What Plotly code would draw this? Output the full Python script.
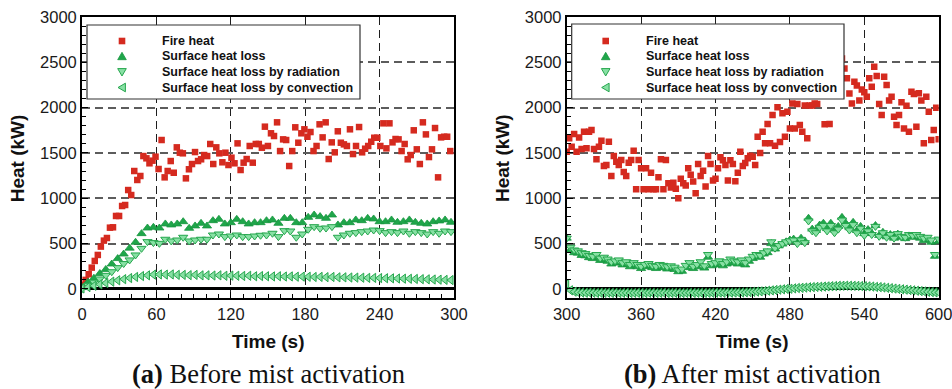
import numpy as np
import plotly.graph_objects as go

W, H = 952, 389

# ---------------- (a) before mist activation, 0-300 s ----------------
# Fire heat (kW), sampled every ~2.45 s starting at 0.5 s
fire_a = [
    44, 100, 162, 235, 309, 375, 467, 533, 562, 676,
    680, 805, 805, 915, 926, 1091, 1036, 1301, 1202, 1246,
    1466, 1441, 1386, 1415, 1459, 1323, 1643, 1231, 1301, 1411,
    1282, 1562, 1503, 1496, 1220, 1320, 1378, 1510, 1411, 1430,
    1477, 1466, 1599, 1378, 1562, 1496, 1397, 1503, 1367, 1448,
    1386, 1606, 1312, 1393, 1433, 1577, 1393, 1599, 1599, 1558,
    1790, 1577, 1717, 1687, 1838, 1521, 1650, 1643, 1356, 1521,
    1783, 1613, 1717, 1761, 1679, 1731, 1521, 1577, 1816, 1672,
    1838, 1433, 1617, 1507, 1739, 1613, 1595, 1577, 1761, 1488,
    1577, 1786, 1507, 1547, 1577, 1624, 1668, 1668, 1577, 1827,
    1551, 1827, 1617, 1654, 1650, 1521, 1599, 1430, 1477, 1750,
    1540, 1378, 1838, 1705, 1455, 1540, 1775, 1231, 1672, 1679,
    1679, 1521,
]
fire_a_t0, fire_a_dt = 0.5, 2.45

# Surface heat loss terms (kW), sampled every 4.8 s
surf_a = [
    15, 75, 118, 170, 215, 275, 335, 385, 450, 515,
    610, 672, 680, 672, 717, 706, 717, 742, 669, 695,
    724, 695, 753, 768, 717, 731, 768, 742, 717, 731,
    731, 753, 761, 724, 779, 779, 731, 731, 790, 816,
    798, 779, 816, 706, 731, 731, 761, 753, 779, 772,
    742, 742, 761, 735, 742, 761, 735, 724, 717, 742,
    750, 761, 735,
]
rad_a = [
    5, 40, 75, 110, 150, 190, 235, 280, 320, 375,
    448, 522, 511, 503, 548, 529, 540, 570, 529, 540,
    548, 548, 595, 606, 577, 584, 595, 577, 577, 584,
    592, 595, 614, 577, 643, 639, 570, 606, 658, 687,
    669, 672, 687, 570, 595, 614, 621, 632, 639, 650,
    643, 621, 632, 621, 639, 614, 632, 621, 606, 632,
    614, 639, 632,
]
conv_a = [
    5, 20, 35, 50, 65, 80, 95, 108, 120, 132,
    142, 150, 158, 160, 158, 160, 155, 155, 152, 155,
    150, 150, 148, 150, 145, 147, 145, 143, 145, 140,
    142, 140, 138, 140, 137, 138, 135, 136, 134, 132,
    133, 130, 132, 128, 128, 126, 125, 124, 122, 122,
    120, 118, 117, 115, 113, 112, 110, 108, 106, 104,
    102, 100, 98,
]
loss_a_t0, loss_a_dt = 0.0, 4.8

# ---------------- (b) after mist activation, 300-600 s ----------------
# Fire heat (kW), every 2 s from 300 s
fire_b = [
    1514, 1661, 1569, 1709, 1514, 1672, 1543, 1735, 1551, 1735,   # 300-318
    1753, 1543, 1430, 1569, 1635, 1356, 1367, 1624, 1246, 1466,   # 320-338
    1404, 1367, 1422, 1290, 1246, 1393, 1422, 1525, 1099, 1422,   # 340-358
    1331, 1099, 1331, 1099, 1283, 1099, 1099, 1231, 1430, 1099,   # 360-378
    1422, 1165, 1120, 1172, 1105, 1000, 1215, 1165, 1140, 1331,   # 380-398
    1260, 1185, 1055, 1378, 1246, 1304, 1130, 1466, 1378, 1195,   # 400-418
    1215, 1331, 1452, 1420, 1367, 1195, 1420, 1378, 1188, 1283,   # 420-438
    1514, 1356, 1390, 1441, 1470, 1459, 1367, 1679, 1500, 1735,   # 440-458
    1606, 1819, 1606, 1918, 1580, 2003, 1620, 1937, 1679, 1955,   # 460-478
    1771, 2047, 1771, 2040, 1808, 1735, 2025, 1661, 2025, 2025,   # 480-498
    2047, 2040, 2150, 2250, 1816, 2300, 1819, 2380, 2420, 2470,   # 500-518
    2500, 2543, 2433, 2323, 2157, 2047, 2286, 2243, 2080, 2200,   # 520-538
    2170, 2120, 2323, 2230, 2451, 2350, 2040, 1918, 2341, 2250,   # 540-558
    2080, 2120, 1900, 1808, 1918, 2060, 1771, 2020, 1735, 2175,   # 560-578
    2150, 1790, 2160, 2080, 1606, 2120, 1955, 1643, 1753, 1999,   # 580-598
    1650,                                                         # 600
]
fire_b_t0, fire_b_dt = 300.0, 2.0

# Surface heat loss terms (kW), every 3 s from 300 s
surf_b = [
    560, 430, 400, 395, 370, 365, 345, 335, 350, 315,
    320, 305, 275, 285, 290, 265, 275, 245, 265, 245,
    225, 245, 255, 235, 225, 245, 235, 220, 230, 215,
    190, 195, 235, 265, 225, 245, 275, 230, 350, 255,
    265, 285, 255, 275, 305, 285, 275, 295, 265, 305,
    335, 355, 350, 385, 400, 500, 440, 475, 495, 520,
    540, 550, 515, 560, 530, 780, 660, 645, 705, 725,
    665, 725, 650, 690, 790, 725, 675, 735, 645, 690,
    610, 655, 615, 700, 590, 625, 575, 600, 560, 605,
    570, 555, 585, 570, 580, 560, 535, 545, 515, 360,
    525,
]
rad_b = [
    560, 460, 430, 420, 400, 390, 370, 360, 380, 340,
    350, 330, 300, 310, 320, 290, 300, 270, 290, 270,
    250, 270, 280, 260, 250, 270, 260, 245, 255, 240,
    210, 220, 260, 290, 250, 270, 300, 255, 380, 280,
    290, 310, 280, 300, 330, 310, 300, 320, 290, 330,
    360, 380, 370, 400, 420, 520, 450, 480, 500, 520,
    530, 540, 500, 540, 510, 750, 640, 620, 680, 700,
    640, 700, 620, 660, 760, 700, 650, 710, 620, 670,
    590, 640, 600, 690, 580, 620, 570, 600, 560, 610,
    580, 570, 600, 590, 600, 580, 560, 570, 540, 380,
    550,
]
conv_b = [
    55, -15, -30, -38, -40, -42, -40, -42, -44, -42,
    -43, -42, -44, -43, -45, -44, -43, -45, -44, -43,
    -44, -45, -43, -44, -45, -44, -43, -45, -44, -43,
    -44, -45, -44, -43, -44, -43, -42, -44, -43, -42,
    -42, -41, -42, -40, -41, -40, -38, -39, -37, -35,
    -32, -30, -27, -24, -20, -16, -12, -8, -4, 0,
    2, 6, 10, 12, 15, 18, 20, 22, 24, 26,
    28, 30, 32, 34, 35, 36, 35, 34, 33, 32,
    30, 28, 26, 22, 20, 16, 12, 8, 4, 0,
    -4, -8, -12, -16, -20, -24, -28, -32, -35, -38,
    -40,
]
loss_b_t0, loss_b_dt = 300.0, 3.0

series_names = ["Fire heat", "Surface heat loss",
                "Surface heat loss by radiation", "Surface heat loss by convection"]
x_ticks_a = [0, 60, 120, 180, 240, 300]
x_ticks_b = [300, 360, 420, 480, 540, 600]
y_ticks = [0, 500, 1000, 1500, 2000, 2500, 3000]
captions = ["<b>(a)</b> Before mist activation", "<b>(b)</b> After mist activation"]


def times(t0, dt, vals):
    return t0 + dt * np.arange(len(vals))


RED = "#d52a1f"
GREEN_DARK = "#1fa64a"
GREEN_FILL = "#88e0a4"
GREEN_EDGE = "#25a64d"

styles = [
    dict(symbol="square", size=6.5, color=RED, line=dict(width=0)),
    dict(symbol="triangle-up", size=8, color=GREEN_DARK, line=dict(width=0.8, color="#16953f")),
    dict(symbol="triangle-down", size=8, color=GREEN_FILL, line=dict(width=1, color=GREEN_EDGE)),
    dict(symbol="triangle-left", size=8, color=GREEN_FILL, line=dict(width=1, color=GREEN_EDGE)),
]

fig = go.Figure()

panels = [
    ("x", "y", [(times(fire_a_t0, fire_a_dt, fire_a), fire_a),
                (times(loss_a_t0, loss_a_dt, surf_a), surf_a),
                (times(loss_a_t0, loss_a_dt, rad_a), rad_a),
                (times(loss_a_t0, loss_a_dt, conv_a), conv_a)]),
    ("x2", "y2", [(times(fire_b_t0, fire_b_dt, fire_b), fire_b),
                  (times(loss_b_t0, loss_b_dt, surf_b), surf_b),
                  (times(loss_b_t0, loss_b_dt, rad_b), rad_b),
                  (times(loss_b_t0, loss_b_dt, conv_b), conv_b)]),
]
for xa, ya, data in panels:
    for name, (tx, vy), st in zip(series_names, data, styles):
        fig.add_trace(go.Scatter(x=tx, y=vy, mode="markers", name=name,
                                 marker=st, xaxis=xa, yaxis=ya, showlegend=False))

tick_font = dict(family="Liberation Sans, Arial, sans-serif", size=16.5, color="#1a1a1a")
DASH = "8px,5px"

def xaxis_cfg(dom, rng, tv, anchor):
    return dict(domain=dom, range=rng, tickvals=tv, ticks="inside", ticklen=6,
                tickwidth=1.2, tickcolor="black", tickfont=tick_font,
                ticklabeloverflow="allow",
                minor=dict(dtick=10, tick0=0, ticks="inside", ticklen=4, tickwidth=1,
                           tickcolor="black", showgrid=False),
                showgrid=True, gridcolor="#1e1e1e", gridwidth=1.2, griddash=DASH,
                showline=True, linecolor="black", linewidth=1.8, mirror=True,
                zeroline=False, fixedrange=True, automargin=False, anchor=anchor)

def yaxis_cfg(anchor):
    return dict(domain=[1 - 298 / H, 1 - 17 / H], range=[-100, 3000], tickvals=y_ticks,
                ticks="inside", ticklen=6, tickwidth=1.2, tickcolor="black",
                tickfont=tick_font, ticklabeloverflow="allow",
                minor=dict(dtick=100, tick0=0, ticks="inside", ticklen=4, tickwidth=1,
                           tickcolor="black", showgrid=False),
                showgrid=True, gridcolor="#5c5c5c", gridwidth=1.6, griddash=DASH,
                showline=True, linecolor="black", linewidth=1.8, mirror=True,
                zeroline=True, zerolinecolor="black", zerolinewidth=2.6,
                anchor=anchor, fixedrange=True, automargin=False)

fig.update_layout(
    width=W, height=H, margin=dict(l=0, r=0, t=0, b=0, autoexpand=False),
    paper_bgcolor="white", plot_bgcolor="white", showlegend=False,
    xaxis=xaxis_cfg([82 / W, 454 / W], [0, 300], x_ticks_a, "y"),
    yaxis=yaxis_cfg("x"),
    xaxis2=xaxis_cfg([566.7 / W, 938.7 / W], [300, 600], x_ticks_b, "y2"),
    yaxis2=yaxis_cfg("x2"),
)


def px(x, y):
    return x / W, 1 - y / H


def path(pts):
    s = []
    for i, (x, y) in enumerate(pts):
        u, v = px(x, y)
        s.append(("M" if i == 0 else "L") + f"{u:.5f},{v:.5f}")
    return " ".join(s) + " Z"


shapes = []
annotations = []
legend_font = dict(family="Liberation Sans, Arial, sans-serif", size=12.5, color="#111")
row_y = [41, 56.3, 72, 87.5]

for box, mx, tx in [((87, 25, 360, 99), 122, 161), ((571.7, 24, 844, 99), 605.7, 645)]:
    x0, y0, x1, y1 = box
    shapes.append(dict(type="rect", xref="paper", yref="paper",
                       x0=x0 / W, x1=x1 / W, y0=1 - y1 / H, y1=1 - y0 / H,
                       fillcolor="white", line=dict(color="#333", width=1.2), layer="above"))
    cy = row_y
    # legend symbols
    s = 3.3
    shapes.append(dict(type="path", xref="paper", yref="paper", layer="above",
                       path=path([(mx - s, cy[0] - s), (mx + s, cy[0] - s),
                                  (mx + s, cy[0] + s), (mx - s, cy[0] + s)]),
                       fillcolor=RED, line=dict(width=0)))
    shapes.append(dict(type="path", xref="paper", yref="paper", layer="above",
                       path=path([(mx - 4.3, cy[1] + 3.4), (mx + 4.3, cy[1] + 3.4), (mx, cy[1] - 4)]),
                       fillcolor=GREEN_DARK, line=dict(width=0.8, color="#16953f")))
    shapes.append(dict(type="path", xref="paper", yref="paper", layer="above",
                       path=path([(mx - 4.3, cy[2] - 3.4), (mx + 4.3, cy[2] - 3.4), (mx, cy[2] + 4)]),
                       fillcolor=GREEN_FILL, line=dict(width=1, color=GREEN_EDGE)))
    shapes.append(dict(type="path", xref="paper", yref="paper", layer="above",
                       path=path([(mx + 3.4, cy[3] - 4.3), (mx + 3.4, cy[3] + 4.3), (mx - 4, cy[3])]),
                       fillcolor=GREEN_FILL, line=dict(width=1, color=GREEN_EDGE)))
    for name, yy in zip(series_names, cy):
        u, v = px(tx, yy)
        annotations.append(dict(x=u, y=v, xref="paper", yref="paper", text=f"<b>{name}</b>",
                                showarrow=False, xanchor="left", yanchor="middle",
                                borderpad=0, font=legend_font))

title_font = dict(family="Liberation Sans, Arial, sans-serif", size=19, color="#111")
cap_font = dict(family="Liberation Serif, Times New Roman, serif", size=26.5, color="#111")
for hx, tcx, ccx, cap in [(17.3, 268, 268, captions[0]), (502, 752.7, 752.3, captions[1])]:
    u, v = px(hx, 158)
    annotations.append(dict(x=u, y=v, xref="paper", yref="paper", text="<b>Heat (kW)</b>",
                            textangle=-90, showarrow=False, xanchor="center", yanchor="middle",
                            font=title_font))
    u, v = px(tcx, 341.5)
    annotations.append(dict(x=u, y=v, xref="paper", yref="paper", text="<b>Time (s)</b>",
                            showarrow=False, xanchor="center", yanchor="middle", font=title_font))
    u, v = px(ccx, 374)
    annotations.append(dict(x=u, y=v, xref="paper", yref="paper", text=cap,
                            showarrow=False, xanchor="center", yanchor="middle", font=cap_font))

fig.update_layout(shapes=shapes, annotations=annotations)
fig.write_html("out.html")
